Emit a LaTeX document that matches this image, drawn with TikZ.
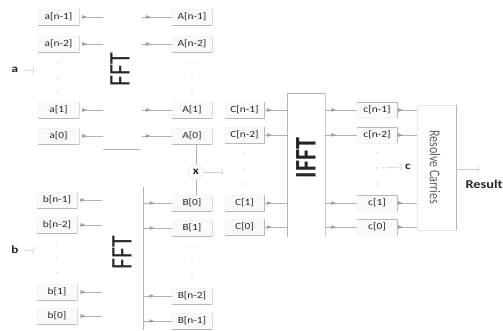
\documentclass[tikz,border=0pt]{standalone}
\usepackage{fontspec}
\usepackage{graphicx}
\setmainfont{Carlito}[FakeStretch=1.2]
\newfontfamily\upfont{Carlito}
\usetikzlibrary{arrows.meta,decorations.markings}
\tikzset{
  wire/.style={draw=gray!60, line width=0.6pt},
  feed/.style={wire, postaction={decorate},
    decoration={markings, mark=at position #1 with {\arrow[gray!75]{Latex[length=5pt,width=4pt]}}}},
  feed/.default=0.3,
  lbl/.style={draw=gray!9, fill=gray!4, minimum width=40pt, minimum height=16pt,
    inner sep=0pt, font=\fontsize{9.5}{10}\selectfont, text=black!85},
  rim/.style={draw=gray!55, line width=0.6pt},
  ptr/.style={draw=gray!40, line width=0.5pt, -{Arc Barb[length=2pt,width=7pt]}},
  big/.style={font=\upfont\fontsize{24}{24}\selectfont, rotate=90, text=black!85},
  tag/.style={font=\bfseries\fontsize{11}{11}\selectfont, text=black!85},
  dotc/.style={fill=gray!70},
}
\begin{document}
\begin{tikzpicture}[x=1pt,y=-1pt]
\useasboundingbox (0,0) rectangle (503,330);
\fill[white] (0,0) rectangle (503,330);

% ---------- input a and its FFT ----------
\node[tag] (ain) at (15,70) {a};
\coordinate (ainp) at (34,71);
\draw[ptr] ([xshift=2pt]ain.east) -- (ainp);

\foreach \nm/\txt/\y in {an1/{a[n-1]}/17, an2/{a[n-2]}/44, aa1/{a[1]}/110, aa0/{a[0]}/136} {
  \node[lbl, minimum width=41pt] (\nm) at (58.5,\y) {\txt};
  \draw[rim] (\nm.south west) -- (\nm.south east);
  \draw[draw=gray!30] (\nm.south east) -- (\nm.north east);
  \coordinate (\nm-in) at (103,\y);
  \draw[feed=0.25] ([xshift=3pt]\nm.east) -- (\nm-in);
}
\foreach \nm/\txt/\y in {Anm1/{A[n-1]}/17, Anm2/{A[n-2]}/44, AA1/{A[1]}/110, AA0/{A[0]}/136} {
  \node[lbl] (\nm) at (192,\y) {\txt};
  \draw[rim] (\nm.south west) -- (\nm.south east);
  \draw[draw=gray!30] (\nm.south east) -- (\nm.north east);
  \coordinate (\nm-out) at (142,\y);
  \draw[feed=0.3] (\nm-out) -- (\nm.west);
}
\foreach \y in {63,78,93} {
  \fill[dotc] (58,\y) circle (0.7pt);
  \fill[dotc] (192,\y) circle (0.7pt);
}
\node[big] (fftA) at (120,70) {\scalebox{1}[1.25]{FFT}};
\coordinate (fftAbl) at (103,149);
\coordinate (fftAbr) at (140,149);
\draw[wire] (fftAbl) -- (fftAbr);

% ---------- input b and its FFT ----------
\node[tag] (bin) at (15,250) {b};
\coordinate (binp) at (34,251);
\draw[ptr] ([xshift=2pt]bin.east) -- (binp);

\foreach \nm/\txt/\y in {bn1/{b[n-1]}/200, bn2/{b[n-2]}/225, bb1/{b[1]}/292, bb0/{b[0]}/316} {
  \node[lbl] (\nm) at (57,\y) {\txt};
  \draw[rim] (\nm.south west) -- (\nm.south east);
  \draw[draw=gray!30] (\nm.south east) -- (\nm.north east);
  \coordinate (\nm-in) at (102,\y);
  \draw[feed=0.25] ([xshift=3pt]\nm.east) -- (\nm-in);
}
\coordinate (fftBt) at (143,187);
\coordinate (fftBb) at (143,330);
\draw[wire] (fftBt) -- (fftBb);
\foreach \nm/\txt/\y in {BB0/{B[0]}/203, BB1/{B[1]}/228, Bnm2/{B[n-2]}/296, Bnm1/{B[n-1]}/321} {
  \node[lbl] (\nm) at (192,\y) {\txt};
  \draw[rim] (\nm.south west) -- (\nm.south east);
  \draw[draw=gray!30] (\nm.south east) -- (\nm.north east);
  \draw[feed=0.4] (\nm.west -| fftBt) -- (\nm.west);
}
\foreach \y in {245,258,273} \fill[dotc] (57,\y) circle (0.7pt);
\foreach \y in {247,262,277} \fill[dotc] (192,\y) circle (0.7pt);
\node[big] (fftB) at (122,253) {\scalebox{1}[1.25]{FFT}};

% ---------- pointwise product ----------
\node[circle, draw=gray!25, minimum size=15pt, inner sep=0pt, tag] (mul) at (196,172) {x};
\draw[wire] (mul.north) -- (mul.north |- AA0.south);
\draw[wire] (mul.south) -- (mul.south |- BB0.north);
\coordinate (mulout) at (223,172);
\draw[ptr] (mul.east) -- (mulout);

% ---------- inverse FFT ----------
\node[minimum width=38pt, minimum height=144pt, inner sep=0pt] (ifft) at (306,165) {};
\draw[wire] (ifft.south west) -- (ifft.north west) -- (ifft.north east);
\draw[draw=gray!40, line width=0.6pt] (ifft.north east) -- (ifft.south east);
\node[big, font=\upfont\bfseries\fontsize{24}{24}\selectfont] (ifftlbl) at (306,158) {\scalebox{1}[1.25]{IFFT}};

\foreach \nm/\txt/\y in {Cn1/{C[n-1]}/110, Cn2/{C[n-2]}/135, CC1/{C[1]}/203, CC0/{C[0]}/227} {
  \node[lbl, minimum width=39pt] (\nm) at (244.5,\y) {\txt};
  \draw[rim] (\nm.south west) -- (\nm.south east) -- (\nm.north east);
  \draw[feed=0.35] (\nm.east) -- (\nm.east -| ifft.west);
}
\foreach \y in {153,169,184} \fill[dotc] (245,\y) circle (0.7pt);

% ---------- carries ----------
\node[draw=gray!18, minimum width=39pt, minimum height=125pt, inner sep=0pt] (res) at (436.5,167.5) {};
\draw[wire] (res.north east) -- (res.south east);
\node[rotate=-90, font=\upfont\fontsize{12}{12}\selectfont, text=gray!75!black] (reslbl) at (435,167)
  {\scalebox{1}[1.25]{Resolve Carries}};

\foreach \nm/\txt/\y in {cn1/{c[n-1]}/110, cn2/{c[n-2]}/135, cc1/{c[1]}/203, cc0/{c[0]}/227} {
  \node[lbl] (\nm) at (377,\y) {\txt};
  \draw[rim] (\nm.north west) -- (\nm.north east) -- (\nm.south east);
  \draw[feed=0.35] (\nm.west -| ifft.east) -- (\nm.west);
  \draw[feed=0.3] (\nm.east) -- (\nm.east -| res.west);
}
\foreach \y in {153,168,184} \fill[dotc] (377,\y) circle (0.7pt);

\node[tag] (cout) at (408,167) {c};
\coordinate (cdots) at (382,168);
\draw[ptr] (cdots) -- (cout.west);

% ---------- result ----------
\coordinate (resend) at (479,169);
\draw[ptr] (res.east |- resend) -- (resend);
\node[anchor=west, font=\bfseries\fontsize{12}{12}\selectfont, text=black!85] (result) at (462,184) {Result};
\end{tikzpicture}
\end{document}
